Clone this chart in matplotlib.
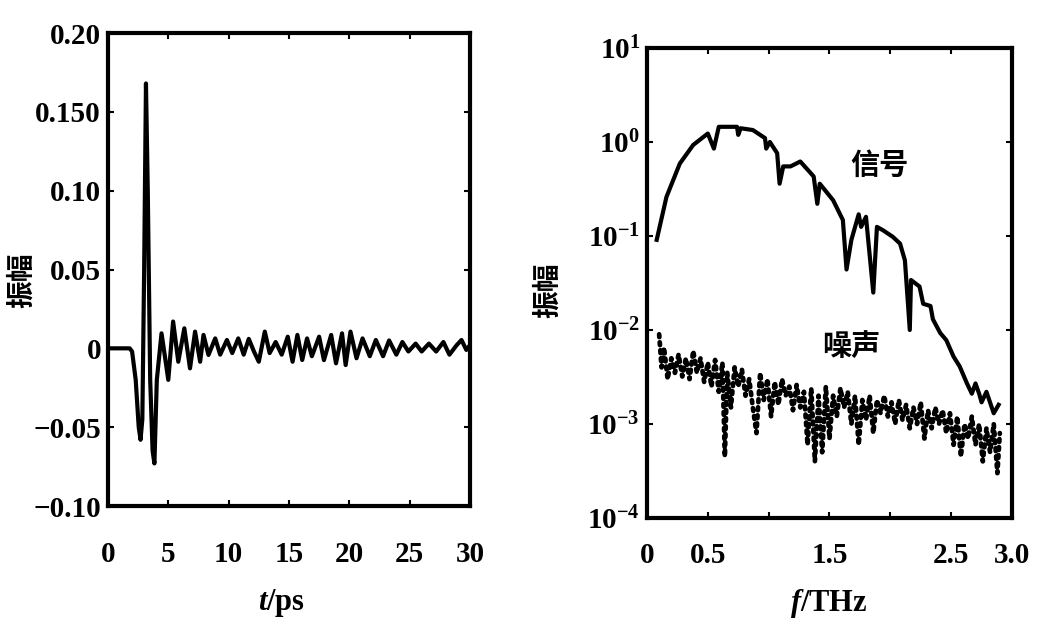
import matplotlib
matplotlib.use("Agg")
import matplotlib.pyplot as plt

# time domain pulse (extrema)
t_ps = [0, 1.8, 2.0, 2.3, 2.55, 2.7, 2.85, 3.0, 3.15, 3.3, 3.5, 3.7, 3.85, 4.05,
        4.44, 4.7, 5.0, 5.4, 5.83, 6.33, 6.8, 7.22, 7.64, 7.92, 8.33, 8.89, 9.3,
        9.86, 10.3, 10.8, 11.25, 11.67, 12.1, 12.5, 13.0, 13.4, 13.9, 14.4, 14.9,
        15.3, 15.7, 16.1, 16.5, 16.9, 17.5, 17.9, 18.5, 18.9, 19.4, 19.7, 20.1,
        20.6, 21.1, 21.7, 22.2, 22.8, 23.3, 23.9, 24.4, 24.9, 25.5, 26.0, 26.6,
        27.2, 27.8, 28.3, 28.9, 29.3, 29.7, 30.0]
amp_t = [0, 0, -0.002, -0.02, -0.05, -0.058, -0.045, 0.05, 0.168, 0.10, -0.02,
         -0.065, -0.073, -0.02, 0.0095, -0.004, -0.020, 0.017, -0.0085, 0.0127,
         -0.0127, 0.0106, -0.0085, 0.0085, -0.0042, 0.0063, -0.004, 0.0053,
         -0.003, 0.0063, -0.004, 0.006, -0.002, -0.0085, 0.0106, -0.003, 0.004,
         -0.004, 0.0074, -0.0085, 0.0085, -0.0074, 0.0063, -0.005, 0.0074,
         -0.0075, 0.0085, -0.0095, 0.0095, -0.0106, 0.0106, -0.0063, 0.0063,
         -0.005, 0.0053, -0.005, 0.005, -0.004, 0.004, -0.002, 0.003, -0.002,
         0.003, -0.002, 0.004, -0.004, 0.002, 0.0053, -0.001, 0.002]

# spectrum of the signal
f_sig = [0.08, 0.16, 0.27, 0.38, 0.50, 0.55, 0.59, 0.74, 0.75, 0.77, 0.87, 0.97,
         0.98, 1.01, 1.07, 1.09, 1.12, 1.18, 1.26, 1.37, 1.40, 1.42, 1.53, 1.61,
         1.64, 1.68, 1.74, 1.76, 1.80, 1.86, 1.89, 1.94, 2.02, 2.08, 2.12, 2.16,
         2.17, 2.24, 2.27, 2.33, 2.35, 2.41, 2.46, 2.52, 2.57, 2.63, 2.67, 2.70,
         2.73, 2.75, 2.79, 2.85, 2.89]
a_sig = [0.091, 0.26, 0.59, 0.93, 1.23, 0.85, 1.45, 1.45, 1.19, 1.40, 1.34, 1.10,
         0.85, 1.0, 0.76, 0.36, 0.55, 0.55, 0.62, 0.43, 0.22, 0.36, 0.24, 0.148,
         0.044, 0.091, 0.17, 0.125, 0.16, 0.025, 0.125, 0.115, 0.098, 0.083,
         0.055, 0.010, 0.034, 0.029, 0.019, 0.018, 0.013, 0.0093, 0.0078, 0.0052,
         0.0041, 0.0027, 0.0021, 0.0027, 0.0021, 0.0017, 0.0022, 0.0013, 0.0016]

# spectrum of the noise
f_noise = [0.10, 0.12, 0.14, 0.17, 0.20, 0.23, 0.26, 0.29, 0.32, 0.35, 0.38, 0.41,
           0.44, 0.47, 0.50, 0.53, 0.56, 0.59, 0.62, 0.64, 0.66, 0.69, 0.72, 0.75,
           0.78, 0.81, 0.84, 0.87, 0.90, 0.93, 0.96, 0.99, 1.02, 1.05, 1.08, 1.11,
           1.14, 1.17, 1.20, 1.23, 1.26, 1.29, 1.32, 1.35, 1.38, 1.41, 1.44, 1.47,
           1.50, 1.53, 1.56, 1.59, 1.62, 1.65, 1.68, 1.71, 1.74, 1.77, 1.80, 1.83,
           1.86, 1.89, 1.92, 1.95, 1.98, 2.01, 2.04, 2.07, 2.10, 2.13, 2.16, 2.19,
           2.22, 2.25, 2.28, 2.31, 2.34, 2.37, 2.40, 2.43, 2.46, 2.49, 2.52, 2.55,
           2.58, 2.61, 2.64, 2.67, 2.70, 2.73, 2.76, 2.79, 2.82, 2.85, 2.88, 2.90]
a_noise = [9.0e-3, 4.0e-3, 6.5e-3, 3.0e-3, 5.0e-3, 3.5e-3, 5.5e-3, 3.2e-3, 5.0e-3,
           3.0e-3, 6.0e-3, 3.5e-3, 5.0e-3, 2.8e-3, 4.5e-3, 2.5e-3, 4.8e-3, 2.2e-3,
           4.5e-3, 4.5e-4, 3.5e-3, 1.5e-3, 4.0e-3, 2.5e-3, 3.8e-3, 2.0e-3, 3.0e-3,
           1.5e-3, 8.0e-4, 3.5e-3, 1.8e-3, 3.0e-3, 1.2e-3, 2.8e-3, 1.6e-3, 3.0e-3,
           2.0e-3, 2.5e-3, 1.4e-3, 2.6e-3, 1.5e-3, 2.2e-3, 6.0e-4, 2.4e-3, 4.0e-4,
           2.0e-3, 5.0e-4, 2.5e-3, 7.0e-4, 2.0e-3, 1.2e-3, 2.4e-3, 1.5e-3, 2.2e-3,
           1.0e-3, 2.0e-3, 6.0e-4, 1.8e-3, 1.1e-3, 2.0e-3, 8.0e-4, 1.8e-3, 1.3e-3,
           2.0e-3, 1.2e-3, 1.7e-3, 1.0e-3, 1.8e-3, 1.1e-3, 1.6e-3, 9.0e-4, 1.5e-3,
           1.0e-3, 1.7e-3, 7.0e-4, 1.4e-3, 9.0e-4, 1.5e-3, 1.0e-3, 1.4e-3, 8.0e-4,
           1.3e-3, 6.0e-4, 1.2e-3, 4.5e-4, 1.0e-3, 7.0e-4, 1.2e-3, 6.0e-4, 1.0e-3,
           4.0e-4, 9.0e-4, 5.0e-4, 1.0e-3, 3.0e-4, 8.0e-4]

t_ticks = [0, 5, 10, 15, 20, 25, 30]
amp_ticks = [-0.10, -0.05, 0, 0.05, 0.10, 0.15, 0.20]
amp_labels = ["\u22120.10", "\u22120.05", "0", "0.05", "0.10", "0.150", "0.20"]
f_ticks = [0, 0.5, 1.0, 1.5, 2.0, 2.5, 3.0]
f_labels = ["0", "0.5", "", "1.5", "", "2.5", "3.0"]
log_ticks = [1e-4, 1e-3, 1e-2, 1e-1, 1e0, 1e1]
log_labels = [r"$10^{-4}$", r"$10^{-3}$", r"$10^{-2}$", r"$10^{-1}$", r"$10^{0}$", r"$10^{1}$"]

plt.rcParams["font.family"] = ["Liberation Serif", "DejaVu Serif"]
plt.rcParams["font.weight"] = "bold"
plt.rcParams["mathtext.fontset"] = "custom"
plt.rcParams["mathtext.rm"] = "Liberation Serif:bold"
plt.rcParams["mathtext.it"] = "Liberation Serif:italic:bold"
plt.rcParams["mathtext.bf"] = "Liberation Serif:bold"

cjk = ["Noto Sans CJK SC", "DejaVu Sans"]

fig = plt.figure(figsize=(10.42, 6.24), dpi=100)
ax1 = fig.add_axes([0.1036, 0.1891, 0.3474, 0.758])
ax2 = fig.add_axes([0.6209, 0.1699, 0.3503, 0.7532])

# left: time domain
ax1.plot(t_ps, amp_t, color="black", linewidth=3.0, solid_joinstyle="round")
ax1.set_xlim(0, 30)
ax1.set_ylim(-0.10, 0.20)
ax1.set_xticks(t_ticks)
ax1.set_xticklabels([str(v) for v in t_ticks])
ax1.set_yticks(amp_ticks)
ax1.set_yticklabels(amp_labels)
ax1.tick_params(axis="x", pad=25)

# right: spectrum
ax2.plot(f_noise, a_noise, color="black", linewidth=3.4,
         linestyle=(0, (0.6, 1.1)), dash_capstyle="round")
ax2.plot(f_sig, a_sig, color="black", linewidth=3.0, solid_joinstyle="round")
ax2.set_yscale("log")
ax2.set_xlim(0, 3.0)
ax2.set_ylim(1e-4, 1e1)
ax2.set_xticks(f_ticks)
ax2.set_xticklabels(f_labels)
ax2.set_yticks(log_ticks)
ax2.set_yticklabels(log_labels)
ax2.minorticks_off()
ax2.tick_params(axis="x", pad=17)

for ax in (ax1, ax2):
    for sp in ax.spines.values():
        sp.set_linewidth(3)
    ax.tick_params(direction="in", length=4, width=1.5, top=True, right=True,
                   labelsize=21)
    ax.tick_params(axis="y", pad=5)

ax2.text(1.91, 0.57, "信号", family=cjk, fontsize=21, fontweight="bold",
         ha="center", va="center")
ax2.text(1.68, 0.0068, "噪声", family=cjk, fontsize=21, fontweight="bold",
         ha="center", va="center")

fig.text(22 / 1042, 1 - 280 / 624, "振幅", family=cjk, fontsize=20, fontweight="bold",
         rotation=90, ha="center", va="center")
fig.text(548 / 1042, 1 - 290 / 624, "振幅", family=cjk, fontsize=20, fontweight="bold",
         rotation=90, ha="center", va="center")
fig.text(282 / 1042, 1 - 603 / 624, "$t$/ps", fontsize=22, ha="center", va="center")
fig.text(829 / 1042, 1 - 603 / 624, "$f$/THz", fontsize=22, ha="center", va="center")

fig.savefig("out.png", dpi=100)
